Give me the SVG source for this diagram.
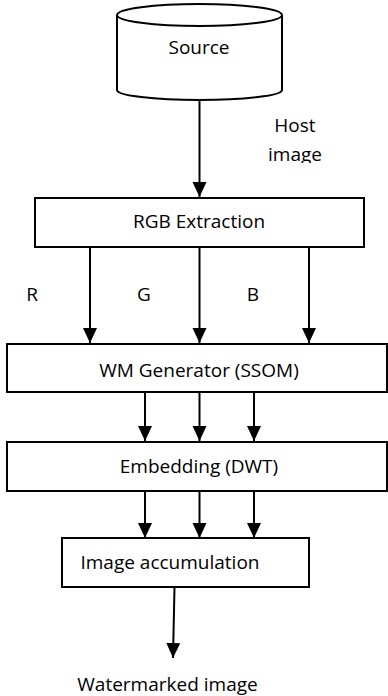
<svg xmlns="http://www.w3.org/2000/svg" width="388" height="696" viewBox="0 0 388 696">
<style>
.box{fill:#fff;stroke:#000;stroke-width:2}
.t{font-family:"Open Sans","Noto Sans",sans-serif;font-size:19px;fill:#000}
.c{stroke:#000;stroke-width:2;fill:none}
</style>
<defs>
<marker id="ah" markerUnits="userSpaceOnUse" markerWidth="16" markerHeight="16" refX="15" refY="7" orient="auto">
<path d="M0,0 L15,7 L0,14 z" fill="#000"/>
</marker>
<clipPath id="hclip"><rect x="250" y="100" width="100" height="63"/></clipPath>
</defs>
<rect width="388" height="696" fill="#fff"/>
<g id="connectors">
<line class="c" x1="199.5" y1="100" x2="199.5" y2="197" marker-end="url(#ah)"/>
<line class="c" x1="90" y1="247" x2="90" y2="343" marker-end="url(#ah)"/>
<line class="c" x1="199.5" y1="247" x2="199.5" y2="343" marker-end="url(#ah)"/>
<line class="c" x1="309" y1="247" x2="309" y2="343" marker-end="url(#ah)"/>
<line class="c" x1="145" y1="392" x2="145" y2="441" marker-end="url(#ah)"/>
<line class="c" x1="199.5" y1="392" x2="199.5" y2="441" marker-end="url(#ah)"/>
<line class="c" x1="254" y1="392" x2="254" y2="441" marker-end="url(#ah)"/>
<line class="c" x1="145" y1="491" x2="145" y2="538" marker-end="url(#ah)"/>
<line class="c" x1="199.5" y1="491" x2="199.5" y2="538" marker-end="url(#ah)"/>
<line class="c" x1="254" y1="491" x2="254" y2="538" marker-end="url(#ah)"/>
<line class="c" x1="174.5" y1="587" x2="173" y2="658" marker-end="url(#ah)"/>
<g clip-path="url(#hclip)">
<text class="t" x="295" y="132" text-anchor="middle">Host</text>
<text class="t" x="295" y="161" text-anchor="middle">image</text>
</g>
<text class="t" x="32" y="301" text-anchor="middle">R</text>
<text class="t" x="144" y="301" text-anchor="middle">G</text>
<text class="t" x="253" y="301" text-anchor="middle">B</text>
<text class="t" x="167.5" y="691" text-anchor="middle">Watermarked image</text>
</g>
<g id="source">
<path class="box" d="M117,15 L117,90 A82.5,10 0 0 0 282,90 L282,15"/>
<ellipse class="box" cx="199.5" cy="15" rx="82.5" ry="11"/>
<text class="t" x="199" y="54" text-anchor="middle">Source</text>
</g>
<g id="rgb">
<rect class="box" x="35" y="198" width="329" height="49"/>
<text class="t" x="199" y="228" text-anchor="middle">RGB Extraction</text>
</g>
<g id="wm">
<rect class="box" x="7" y="344" width="380" height="48"/>
<text class="t" x="199" y="377" text-anchor="middle">WM Generator (SSOM)</text>
</g>
<g id="embed">
<rect class="box" x="7" y="442" width="380" height="49"/>
<text class="t" x="199" y="473" text-anchor="middle">Embedding (DWT)</text>
</g>
<g id="accum">
<rect class="box" x="62" y="538" width="247" height="49"/>
<text class="t" x="170" y="569" text-anchor="middle">Image accumulation</text>
</g>
</svg>
